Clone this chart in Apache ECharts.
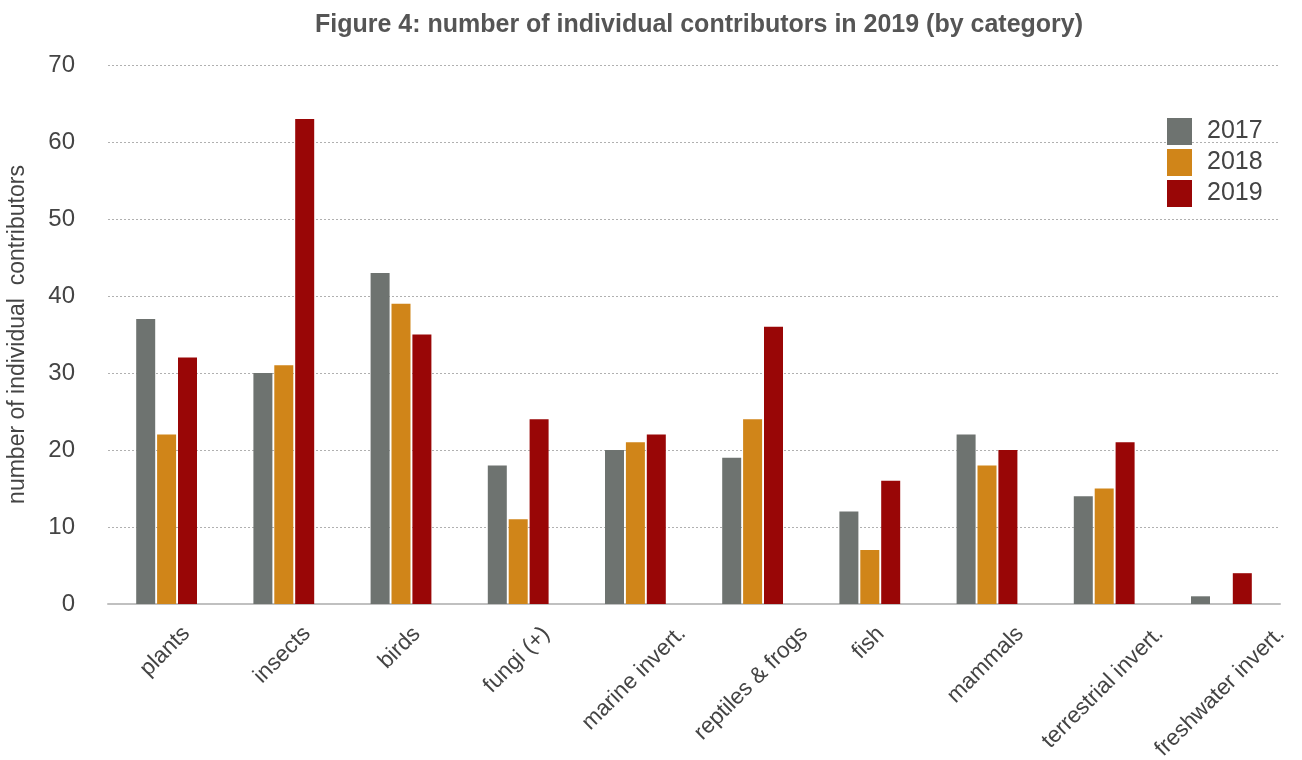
<!DOCTYPE html>
<html><head><meta charset="utf-8">
<script src="https://cdn.jsdelivr.net/npm/echarts@6/dist/echarts.min.js"></script>
<style>html,body{margin:0;padding:0;background:#fff}#c{width:1302px;height:760px}</style>
</head><body><div id="c"></div>
<script>
const categories = ["plants","insects","birds","fungi (+)","marine invert.","reptiles & frogs","fish","mammals","terrestrial invert.","freshwater invert."];
const years = ["2017","2018","2019"];
const v2017 = [37,30,43,18,20,19,12,22,14,1];
const v2018 = [22,31,39,11,21,24,7,18,15,0];
const v2019 = [32,63,35,24,22,36,16,20,21,4];
const yTicks = [0,10,20,30,40,50,60,70];
const colors = ["#6e7370","#d08519","#990606"];
const font = "Liberation Sans";
const labelSize = 22.5;

// centred rotated category labels: shift each label down by half its diagonal extent
const ctx = document.createElement('canvas').getContext('2d');
ctx.font = labelSize + 'px "' + font + '"';
const rich = {};
categories.forEach((c, i) => {
  const L = ctx.measureText(c).width;
  const p = Math.round((L + labelSize) / 2);
  rich['l' + i] = {padding: [p, p + 4, 0, 0], fontFamily: font, fontSize: labelSize, color: '#444'};
});

const chart = echarts.init(document.getElementById('c'), null, {renderer:'canvas'});
const vals = [v2017, v2018, v2019];
chart.setOption({
  animation:false,
  backgroundColor:'#fff',
  title:{text:"Figure 4: number of individual contributors in 2019 (by category)",left:694,textAlign:'center',top:8,
    textStyle:{fontFamily:font,fontSize:25,fontWeight:'bold',color:'#555'}},
  legend:{orient:'vertical',left:1162,top:113,itemWidth:25,itemHeight:27,itemGap:4,
    textStyle:{fontFamily:font,fontSize:25,color:'#444',padding:[0,0,0,10]},
    data:years, icon:'rect'},
  grid:{left:108,right:22,top:65,bottom:156,containLabel:false,outerBoundsMode:'none'},
  xAxis:{type:'category',data:categories,
    axisLine:{lineStyle:{color:'#c0c0c0',width:2}},axisTick:{show:false},
    axisLabel:{rotate:45,align:'center',verticalAlign:'middle',margin:17,interval:0,
      formatter:(v, i) => '{l' + i + '|' + v + '}', rich:rich}},
  yAxis:{type:'value',min:yTicks[0],max:yTicks[yTicks.length-1],interval:10,
    name:"number of individual  contributors",nameLocation:'middle',nameGap:79,
    nameTextStyle:{fontFamily:font,fontSize:23,color:'#444'},
    axisLine:{show:false},axisTick:{show:false},
    axisLabel:{fontFamily:font,fontSize:24,color:'#444',margin:33},
    splitLine:{lineStyle:{color:'#b0b0b0',type:[2,2],width:1}}},
  series: years.map((y,i)=>({name:y,type:'bar',data:vals[i],barWidth:19,barGap:'10%',
    itemStyle:{color:colors[i]}}))
});
</script></body></html>
